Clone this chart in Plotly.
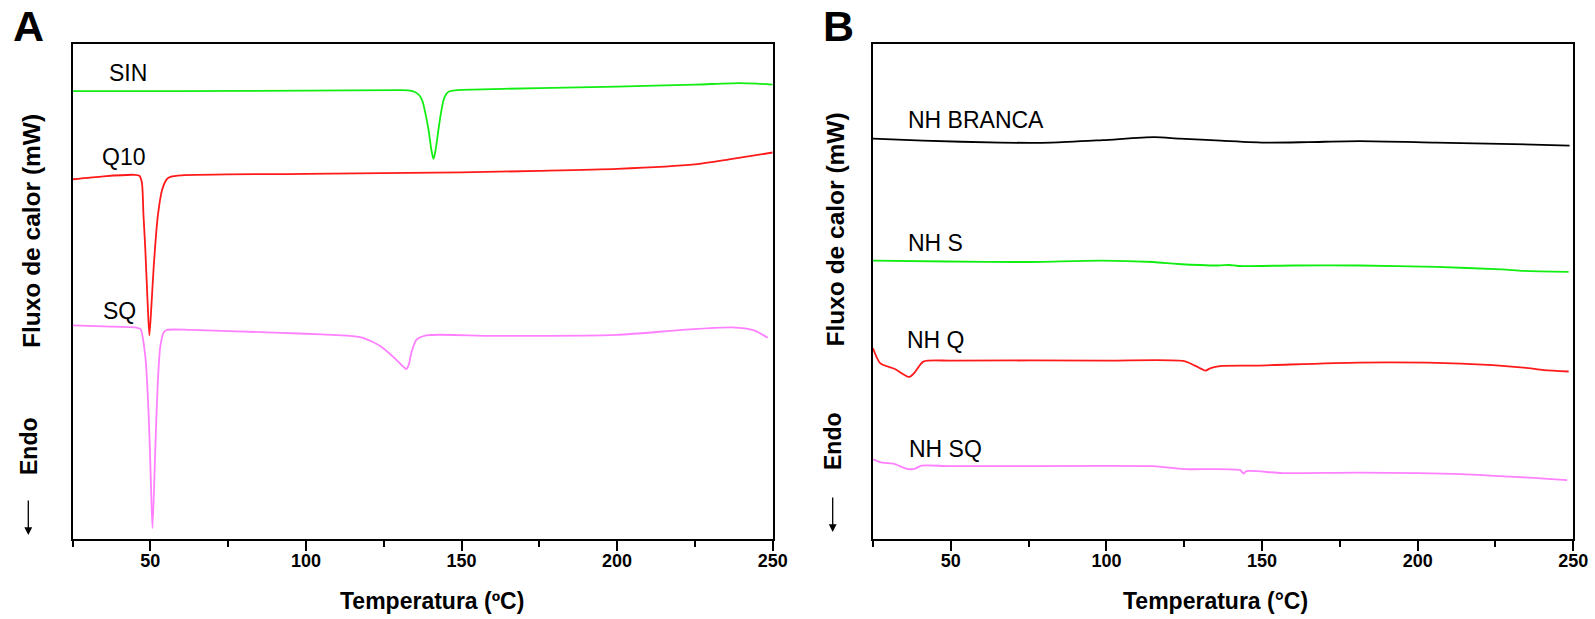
import plotly.graph_objects as go

# ---- Panel A: pure components (temperature in °C, heat flow in arbitrary offset units) ----
sin_t = [25, 60, 100, 130, 133, 135, 136.5, 137.5, 138.5, 139.5, 140.3, 141, 141.7, 142.5, 143.3, 144.2, 145, 146, 148, 150, 175, 200, 225, 239, 245, 250]
sin_q = [9.04, 9.04, 9.05, 9.06, 9.055, 9.02, 8.95, 8.83, 8.56, 8.22, 7.86, 7.67, 7.86, 8.22, 8.56, 8.85, 8.97, 9.03, 9.055, 9.065, 9.10, 9.13, 9.17, 9.20, 9.19, 9.17]

q10_t = [25, 35, 45, 46.5, 47.3, 47.8, 48.4, 49.1, 49.7, 50.4, 51.1, 52.4, 53.8, 55.4, 56.5, 60, 100, 150, 175, 200, 225, 236, 250]
q10_q = [7.26, 7.32, 7.35, 7.33, 7.19, 6.55, 5.84, 4.83, 4.11, 4.75, 5.50, 6.51, 7.05, 7.27, 7.31, 7.34, 7.37, 7.40, 7.43, 7.47, 7.56, 7.66, 7.80]

sq_t = [25, 35, 45, 46.8, 48.4, 49.5, 50.2, 50.7, 51.6, 52.4, 53.2, 54.3, 55.4, 63, 92, 105, 112, 117.7, 121, 124.2, 128.5, 131.4, 132.3, 133.1, 133.9, 135.5, 138.7, 160, 200, 221, 237, 244, 248.4]
sq_q = [4.31, 4.29, 4.27, 4.24, 3.68, 2.47, 1.13, 0.22, 1.80, 3.15, 3.88, 4.17, 4.22, 4.22, 4.16, 4.13, 4.11, 4.07, 3.99, 3.88, 3.65, 3.47, 3.43, 3.53, 3.76, 4.02, 4.11, 4.10, 4.12, 4.22, 4.27, 4.21, 4.06]

# ---- Panel B: nanoparticle formulations ----
nhb_t = [25, 41, 65.8, 82.2, 98.8, 115.3, 123.5, 136.7, 151.6, 164.8, 181.3, 206, 230.8, 248.8]
nhb_q = [8.08, 8.04, 8.00, 8.00, 8.05, 8.11, 8.08, 8.04, 8.00, 8.01, 8.03, 8.00, 7.97, 7.94]

nhs_t = [25, 49, 74, 98.5, 115, 123, 136, 139.5, 142.5, 160, 181, 206, 227, 234, 248.5]
nhs_q = [5.62, 5.60, 5.59, 5.62, 5.59, 5.55, 5.52, 5.53, 5.51, 5.52, 5.52, 5.49, 5.44, 5.41, 5.39]

nhq_t = [25, 27.3, 32, 36.7, 38.5, 41.2, 50, 100, 125, 128.4, 131.8, 133.5, 136.5, 148, 181, 214, 234, 240.5, 248.5]
nhq_q = [3.85, 3.55, 3.43, 3.27, 3.37, 3.58, 3.60, 3.60, 3.59, 3.50, 3.40, 3.45, 3.49, 3.50, 3.56, 3.54, 3.46, 3.41, 3.38]

nhsq_t = [25, 28, 31.5, 36.3, 38.5, 40.6, 50, 115, 118.5, 125, 143, 144, 145, 156.5, 181, 214, 248]
nhsq_q = [1.61, 1.54, 1.52, 1.41, 1.42, 1.48, 1.47, 1.47, 1.45, 1.41, 1.39, 1.32, 1.37, 1.33, 1.34, 1.31, 1.19]

# curve labels: (text, temperature, heat flow)
labels_a = [("SIN", 36.1, 9.41), ("Q10", 33.9, 7.70), ("SQ", 34.0, 4.61)]
labels_b = [("NH BRANCA", 35.6, 8.46), ("NH S", 35.6, 5.98), ("NH Q", 35.3, 4.01), ("NH SQ", 35.9, 1.81)]

x_ticks = [50, 100, 150, 200, 250]

GREEN = "#11ee11"
RED = "#ff1a1a"
PINK = "#ff80ff"
BLACK = "#000000"
FONT = "Liberation Sans, Arial, sans-serif"

W, H = 1595, 619

fig = go.Figure()

def add_curve(t, q, color, xa, ya):
    fig.add_trace(go.Scatter(x=t, y=q, mode="lines", xaxis=xa, yaxis=ya,
                             line=dict(color=color, width=1.8, shape="spline", smoothing=0.7),
                             showlegend=False, hoverinfo="skip"))

add_curve(sin_t, sin_q, GREEN, "x", "y")
add_curve(q10_t, q10_q, RED, "x", "y")
add_curve(sq_t, sq_q, PINK, "x", "y")
add_curve(nhb_t, nhb_q, BLACK, "x2", "y2")
add_curve(nhs_t, nhs_q, GREEN, "x2", "y2")
add_curve(nhq_t, nhq_q, RED, "x2", "y2")
add_curve(nhsq_t, nhsq_q, PINK, "x2", "y2")

def px(x):
    return x / W

def py(y):
    return 1 - y / H

xaxis_style = dict(
    range=[25, 250], tickmode="array", tickvals=x_ticks, ticktext=[str(v) for v in x_ticks],
    ticks="outside", ticklen=10, tickwidth=2, tickcolor=BLACK,
    minor=dict(dtick=25, tick0=0, ticks="outside", ticklen=6, tickwidth=2, tickcolor=BLACK),
    showline=True, linewidth=2, linecolor=BLACK, mirror=True,
    showgrid=False, zeroline=False, automargin=False,
    tickfont=dict(family=FONT, size=18, color=BLACK, weight="bold"),
    ticklabelstandoff=-6,
)
yaxis_style = dict(
    range=[0, 10], showticklabels=False, ticks="",
    showline=True, linewidth=2, linecolor=BLACK, mirror=True,
    showgrid=False, zeroline=False, automargin=False,
    domain=[py(539), py(43.5)],
)

fig.update_layout(
    width=W, height=H, autosize=False,
    margin=dict(l=0, r=0, t=0, b=0, autoexpand=False),
    paper_bgcolor="white", plot_bgcolor="white",
    xaxis={**xaxis_style, "domain": [px(72.5), px(772.7)], "anchor": "y"},
    yaxis={**yaxis_style, "anchor": "x"},
    xaxis2={**xaxis_style, "domain": [px(873), px(1573.3)], "anchor": "y2"},
    yaxis2={**yaxis_style, "anchor": "x2"},
)

ann = []
for text, t, q in labels_a:
    ann.append(dict(x=t, y=q, xref="x", yref="y", text=text, showarrow=False,
                    xanchor="left", yanchor="middle",
                    font=dict(family=FONT, size=23, color=BLACK)))
for text, t, q in labels_b:
    ann.append(dict(x=t, y=q, xref="x2", yref="y2", text=text, showarrow=False,
                    xanchor="left", yanchor="middle",
                    font=dict(family=FONT, size=23, color=BLACK)))

bold = lambda s: dict(family=FONT, size=s, color=BLACK, weight="bold")

# panel letters
ann.append(dict(x=px(28), y=py(26), xref="paper", yref="paper", text="A", showarrow=False,
                xanchor="center", yanchor="middle", font=bold(43)))
ann.append(dict(x=px(838), y=py(26), xref="paper", yref="paper", text="B", showarrow=False,
                xanchor="center", yanchor="middle", font=bold(43)))

# x titles
ann.append(dict(x=px(432), y=py(601), xref="paper", yref="paper", text="Temperatura (ºC)",
                showarrow=False, xanchor="center", yanchor="middle", font=bold(23)))
ann.append(dict(x=px(1215), y=py(601), xref="paper", yref="paper", text="Temperatura (°C)",
                showarrow=False, xanchor="center", yanchor="middle", font=bold(23)))

# y titles, "Endo" markers and downward arrows
for cx, ty, ex, ey, ax_x, tip in [(31, 231, 29, 446, 28.3, 535), (834.5, 230, 833, 441, 832.7, 532)]:
    ann.append(dict(x=px(cx), y=py(ty), xref="paper", yref="paper", text="Fluxo de calor (mW)",
                    showarrow=False, textangle=-90, xanchor="center", yanchor="middle", font=bold(24.5)))
    ann.append(dict(x=px(ex), y=py(ey), xref="paper", yref="paper", text="Endo",
                    showarrow=False, textangle=-90, xanchor="center", yanchor="middle", font=bold(23)))
    ann.append(dict(x=px(ax_x), y=py(tip), xref="paper", yref="paper", text="",
                    showarrow=True, ax=0, ay=-36, arrowhead=2, arrowsize=1.2, arrowwidth=1.3,
                    arrowcolor=BLACK, standoff=0))

fig.update_layout(annotations=ann)

fig.write_html("out.html", config={"responsive": False})
